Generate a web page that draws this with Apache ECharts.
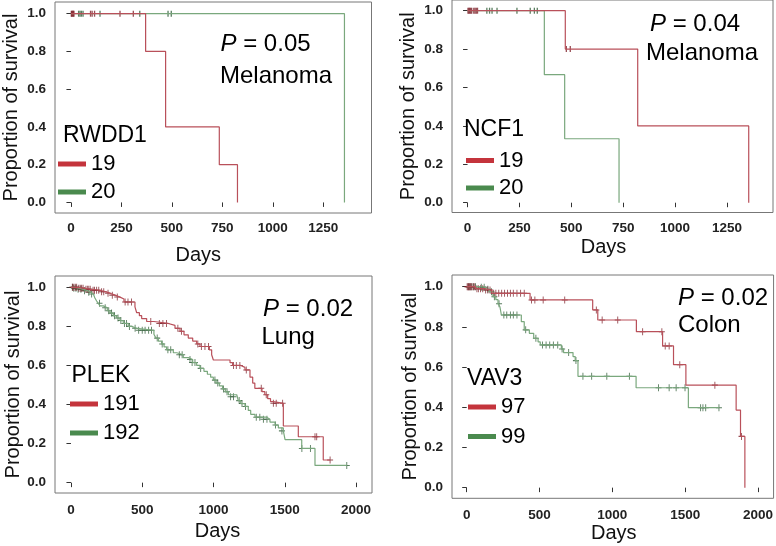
<!DOCTYPE html>
<html>
<head>
<meta charset="utf-8">
<script src="https://cdn.jsdelivr.net/npm/echarts@6/dist/echarts.min.js"></script>
<style>
html,body{margin:0;padding:0;background:#fff;}
#chart{width:776px;height:546px;}
</style>
</head>
<body>
<div id="chart"></div>
<script>
// ---------- tick labels ----------
const xTicksMelanoma = [0, 250, 500, 750, 1000, 1250];
const xTicksLong = [0, 500, 1000, 1500, 2000];
const yTicks = [0, 0.2, 0.4, 0.6, 0.8, 1.0];

// ---------- panel texts ----------
const genes = ['RWDD1', 'NCF1', 'PLEK', 'VAV3'];
const pValues = ['0.05', '0.04', '0.02', '0.02'];
const cancers = ['Melanoma', 'Melanoma', 'Lung', 'Colon'];
const groupHigh = ['19', '19', '191', '97'];   // red group
const groupLow = ['20', '20', '192', '99'];    // green group

// ---------- Panel 1: RWDD1 (melanoma) ----------
const rwdd1Red = [[0,1],[370,0.8],[469,0.4],[735,0.2],[825,0]];
const rwdd1RedCens = [[2,1],[5,1],[8,1],[12,1],[15,1],[97,1],[105,1],[117,1],[243,1],[309,1]];
const rwdd1Green = [[0,1],[1355,0]];
const rwdd1GreenCens = [[38,1],[45,1],[52,1],[60,1],[144,1],[341,1],[481,1],[497,1]];

// ---------- Panel 2: NCF1 (melanoma) ----------
const ncf1Red = [[0,1],[471,0.8],[820,0.4],[1355,0]];
const ncf1RedCens = [[2,1],[6,1],[10,1],[15,1],[20,1],[30,1],[36,1],[42,1],[48,1],[476,0.8],[495,0.8]];
const ncf1Green = [[0,1],[370,0.667],[468,0.333],[730,0]];
const ncf1GreenCens = [[93,1],[106,1],[118,1],[142,1],[238,1],[302,1],[322,1],[336,1]];

// ---------- Panel 3: PLEK (lung) ----------
const plekRed = [[0,1],[51,0.995],[98,0.99],[145,0.985],[203,0.977],[246,0.97],[274,0.96],[309,0.95],[344,0.94],[372,0.925],[449,0.9],[461,0.87],[480,0.855],[496,0.84],[531,0.825],[582,0.815],[683,0.805],[730,0.79],[765,0.775],[793,0.757],[823,0.74],[854,0.725],[882,0.71],[905,0.697],[971,0.68],[987,0.655],[999,0.628],[1116,0.614],[1134,0.6],[1191,0.59],[1221,0.577],[1256,0.54],[1275,0.51],[1290,0.483],[1340,0.466],[1360,0.45],[1380,0.43],[1400,0.415],[1420,0.406],[1490,0.29],[1595,0.235],[1770,0.116],[1818,0.116]];
const plekRedCens = [[10,1],[20,1],[30,1],[40,1],[55,0.995],[65,0.995],[75,0.995],[85,0.995],[105,0.99],[115,0.99],[125,0.99],[135,0.99],[155,0.985],[165,0.985],[180,0.985],[195,0.985],[215,0.977],[230,0.977],[260,0.97],[290,0.96],[325,0.95],[380,0.925],[400,0.925],[425,0.925],[560,0.825],[620,0.815],[645,0.815],[670,0.815],[750,0.79],[775,0.775],[890,0.71],[915,0.697],[940,0.697],[965,0.697],[1140,0.6],[1160,0.6],[1185,0.6],[1230,0.577],[1335,0.483],[1370,0.45],[1420,0.406],[1440,0.406],[1485,0.406],[1712,0.235],[1724,0.235],[1818,0.116]];
const plekGreen = [[0,1],[28,0.995],[63,0.99],[87,0.983],[115,0.975],[138,0.966],[157,0.957],[168,0.945],[180,0.93],[192,0.918],[204,0.905],[227,0.895],[255,0.88],[274,0.868],[297,0.855],[320,0.843],[344,0.83],[367,0.815],[402,0.8],[426,0.79],[461,0.78],[582,0.76],[596,0.74],[613,0.725],[636,0.71],[653,0.695],[671,0.68],[718,0.665],[742,0.655],[788,0.64],[823,0.63],[854,0.615],[882,0.6],[905,0.585],[933,0.57],[957,0.555],[980,0.54],[999,0.525],[1018,0.51],[1041,0.495],[1064,0.48],[1083,0.465],[1104,0.45],[1163,0.44],[1174,0.42],[1191,0.405],[1221,0.39],[1244,0.37],[1261,0.35],[1291,0.335],[1373,0.325],[1396,0.31],[1432,0.295],[1455,0.28],[1490,0.265],[1502,0.22],[1619,0.175],[1712,0.088],[1935,0.088]];
const plekGreenCens = [[10,1],[20,0.995],[35,0.995],[50,0.99],[70,0.99],[95,0.983],[125,0.975],[145,0.966],[200,0.918],[240,0.895],[265,0.88],[285,0.868],[305,0.855],[330,0.843],[350,0.83],[375,0.815],[390,0.815],[410,0.8],[450,0.79],[475,0.78],[500,0.78],[520,0.78],[545,0.78],[565,0.78],[605,0.74],[640,0.71],[680,0.68],[700,0.68],[760,0.655],[780,0.655],[835,0.63],[850,0.615],[870,0.615],[910,0.585],[1010,0.525],[1030,0.51],[1070,0.48],[1095,0.465],[1120,0.44],[1140,0.44],[1180,0.42],[1200,0.405],[1225,0.39],[1300,0.335],[1325,0.335],[1350,0.325],[1375,0.325],[1435,0.295],[1480,0.265],[1620,0.175],[1680,0.175],[1935,0.088]];

// ---------- Panel 4: VAV3 (colon) ----------
const vav3Red = [[0,1],[60,0.99],[120,0.983],[172,0.967],[435,0.934],[865,0.884],[900,0.834],[1165,0.776],[1345,0.705],[1420,0.612],[1505,0.51],[1850,0.386],[1880,0.255],[1910,0]];
const vav3RedCens = [[3,1],[8,1],[13,1],[18,1],[23,1],[28,1],[35,1],[45,1],[55,1],[70,0.99],[80,0.99],[95,0.99],[110,0.99],[130,0.983],[145,0.983],[160,0.983],[185,0.967],[200,0.967],[220,0.967],[240,0.967],[260,0.967],[280,0.967],[300,0.967],[320,0.967],[345,0.967],[370,0.967],[395,0.967],[445,0.934],[468,0.934],[525,0.934],[673,0.934],[890,0.884],[930,0.834],[1037,0.834],[1208,0.776],[1340,0.776],[1363,0.705],[1390,0.705],[1463,0.612],[1704,0.51],[1887,0.255]];
const vav3Green = [[0,1],[80,0.997],[130,0.987],[155,0.975],[180,0.95],[200,0.935],[215,0.915],[228,0.9],[238,0.859],[375,0.826],[395,0.785],[430,0.768],[460,0.743],[490,0.725],[505,0.71],[650,0.69],[665,0.672],[730,0.652],[745,0.632],[764,0.554],[1163,0.497],[1522,0.398],[1732,0.398]];
const vav3GreenCens = [[15,1],[30,1],[45,1],[60,1],[100,0.997],[120,0.997],[145,0.987],[170,0.975],[190,0.95],[222,0.915],[255,0.859],[275,0.859],[300,0.859],[320,0.859],[345,0.859],[405,0.785],[475,0.743],[520,0.71],[545,0.71],[570,0.71],[595,0.71],[625,0.71],[655,0.69],[700,0.672],[750,0.632],[798,0.554],[858,0.554],[962,0.554],[1117,0.554],[1317,0.497],[1390,0.497],[1438,0.497],[1499,0.497],[1606,0.398],[1622,0.398],[1641,0.398],[1732,0.398]];

// ---------- layout / style ----------
const FONT = 'Liberation Sans, Arial, Helvetica, sans-serif';
const RED_LINE = '#b9505a', GREEN_LINE = '#7aa87d';
const RED_MARK = '#7d2029', GREEN_MARK = '#2f5c37';
const RED_LEG = '#c4343c', GREEN_LEG = '#4a8a4e';
const PLUS = 'path://M4.25,0h1.5v10h-1.5zM0,4.25h10v1.5h-10z';

const panels = [
  {grid:{left:53, top:2, width:318.5, height:211}, xMin:-79, xMax:1489, yMin:-0.056, yMax:1.062, xTicks:xTicksMelanoma,
   red:rwdd1Red, redC:rwdd1RedCens, green:rwdd1Green, greenC:rwdd1GreenCens, tick:'rect', tickSize:[1.3,6],
   xNameGap:32, xNamePad:[0,30,0,0], yNameGap:34, xLabelMargin:8,
   pPos:[220.5,32.5], cPos:[220,64], gPos:[63,124.5], legPos:[58,153], legGap:6},
  {grid:{left:452, top:0, width:321, height:212.5}, xMin:-75, xMax:1472, yMin:-0.051, yMax:1.0557, xTicks:xTicksMelanoma,
   red:ncf1Red, redC:ncf1RedCens, green:ncf1Green, greenC:ncf1GreenCens, tick:'rect', tickSize:[1.3,6],
   xNameGap:25, xNamePad:[0,18,0,0], yNameGap:34, xLabelMargin:9,
   pPos:[650,12], cPos:[646,41.5], gPos:[464,118.5], legPos:[466,149.5], legGap:5.5},
  {grid:{left:55, top:276, width:317, height:217}, xMin:-112, xMax:2112, yMin:-0.053, yMax:1.058, xTicks:xTicksLong,
   red:plekRed, redC:plekRedCens, green:plekGreen, greenC:plekGreenCens, tick:PLUS, tickSize:[6,7],
   xNameGap:28, xNamePad:[0,0,0,8], yNameGap:30, xLabelMargin:10,
   pPos:[263,297], cPos:[261.5,325], gPos:[71.5,364.5], legPos:[70,393], legGap:7},
  {grid:{left:452, top:275, width:323, height:223.3}, xMin:-101, xMax:2107, yMin:-0.053, yMax:1.058, xTicks:xTicksLong,
   red:vav3Red, redC:vav3RedCens, green:vav3Green, greenC:vav3GreenCens, tick:PLUS, tickSize:[6,7],
   xNameGap:18, xNamePad:[0,0,0,2], yNameGap:32, xLabelMargin:10,
   pPos:[678,286], cPos:[678,313], gPos:[467,367.5], legPos:[468,396], legGap:7.5}
];

const option = {
  animation: false,
  backgroundColor: '#ffffff',
  textStyle: {fontFamily: FONT},
  grid: [], xAxis: [], yAxis: [], series: [], title: [], legend: []
};

panels.forEach((p, i) => {
  option.grid.push(Object.assign({show:true, borderColor:'#777', borderWidth:1, backgroundColor:'transparent'}, p.grid));
  option.xAxis.push({
    gridIndex:i, type:'value', min:p.xMin, max:p.xMax,
    axisLine:{show:false}, splitLine:{show:false},
    axisTick:{show:true, length:4.5, lineStyle:{color:'#333', width:1}, customValues:p.xTicks},
    axisLabel:{customValues:p.xTicks, margin:p.xLabelMargin, fontSize:13.5, fontWeight:'bold', color:'#222', fontFamily:FONT,
               formatter: v => String(Math.round(v))},
    name:'Days', nameLocation:'middle', nameGap:p.xNameGap,
    nameTextStyle:{fontSize:20, color:'#111', fontFamily:FONT, padding:p.xNamePad}
  });
  option.yAxis.push({
    gridIndex:i, type:'value', min:p.yMin, max:p.yMax,
    axisLine:{show:false}, splitLine:{show:false},
    axisTick:{show:true, length:4.5, lineStyle:{color:'#333', width:1}, customValues:yTicks},
    axisLabel:{customValues:yTicks, margin:9, fontSize:13.5, fontWeight:'bold', color:'#222', fontFamily:FONT,
               formatter: v => v.toFixed(1)},
    name:'Proportion of survival', nameLocation:'middle', nameGap:p.yNameGap,
    nameTextStyle:{fontSize:20, color:'#111', fontFamily:FONT}
  });
  // green group first, red drawn on top
  option.series.push({
    name:groupLow[i], type:'line', xAxisIndex:i, yAxisIndex:i, data:p.green, step:'end',
    showSymbol:false, symbol:'none', silent:true,
    itemStyle:{color:GREEN_LEG}, lineStyle:{color:GREEN_LINE, width:1.2}
  });
  option.series.push({
    name:groupLow[i] + ' censored ' + genes[i], type:'scatter', xAxisIndex:i, yAxisIndex:i, data:p.greenC,
    symbol:p.tick, symbolSize:p.tickSize, silent:true, itemStyle:{color:GREEN_MARK}
  });
  option.series.push({
    name:groupHigh[i], type:'line', xAxisIndex:i, yAxisIndex:i, data:p.red, step:'end',
    showSymbol:false, symbol:'none', silent:true,
    itemStyle:{color:RED_LEG}, lineStyle:{color:RED_LINE, width:1.2}
  });
  option.series.push({
    name:groupHigh[i] + ' censored ' + genes[i], type:'scatter', xAxisIndex:i, yAxisIndex:i, data:p.redC,
    symbol:p.tick, symbolSize:p.tickSize, silent:true, itemStyle:{color:RED_MARK}
  });
  // annotation texts
  option.title.push({
    text:'{i|P} = ' + pValues[i], left:p.pPos[0], top:p.pPos[1], padding:0,
    textStyle:{fontSize:24, fontWeight:'normal', color:'#000', fontFamily:FONT, lineHeight:24,
      rich:{i:{fontStyle:'italic', fontSize:24, fontFamily:FONT, color:'#000', lineHeight:24}}}
  });
  option.title.push({
    text:cancers[i], left:p.cPos[0], top:p.cPos[1], padding:0,
    textStyle:{fontSize:24, fontWeight:'normal', color:'#000', fontFamily:FONT, lineHeight:24}
  });
  option.title.push({
    text:genes[i], left:p.gPos[0], top:p.gPos[1], padding:0,
    textStyle:{fontSize:23, fontWeight:'normal', color:'#000', fontFamily:FONT, lineHeight:23}
  });
  option.legend.push({
    orient:'vertical', left:p.legPos[0], top:p.legPos[1], padding:0,
    itemWidth:28, itemHeight:5, itemGap:p.legGap, icon:'rect', selectedMode:false,
    textStyle:{fontSize:22, lineHeight:22, color:'#000', fontFamily:FONT},
    data:[
      {name:groupHigh[i], icon:'rect', itemStyle:{color:RED_LEG, borderWidth:0}},
      {name:groupLow[i], icon:'rect', itemStyle:{color:GREEN_LEG, borderWidth:0}}
    ]
  });
});

const chart = echarts.init(document.getElementById('chart'), null, {renderer:'canvas', width:776, height:546});
chart.setOption(option);
</script>
</body>
</html>
